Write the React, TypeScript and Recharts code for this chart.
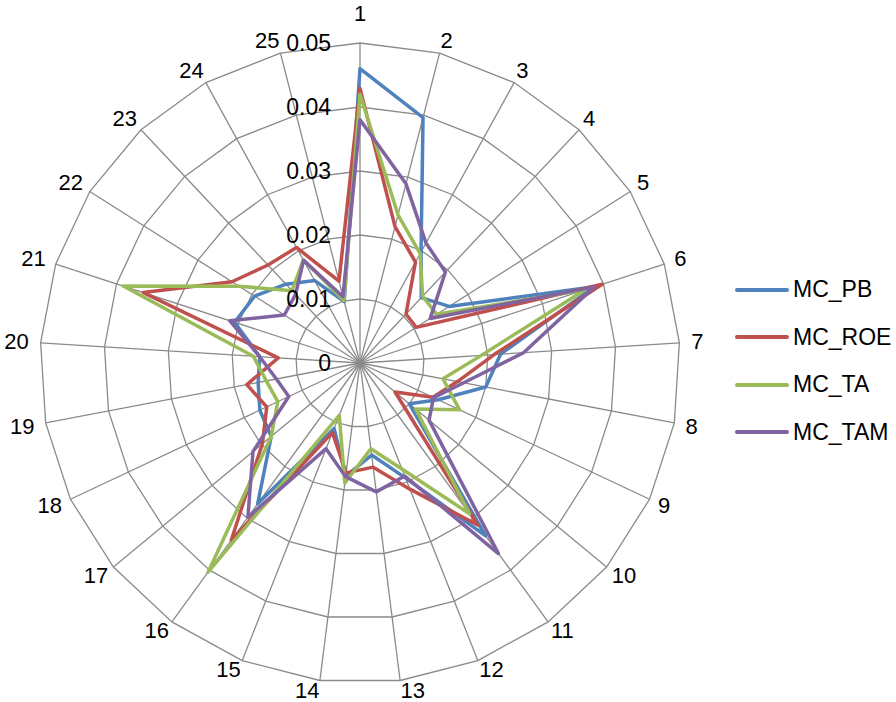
import React from "react";
import {
  RadarChart,
  Radar,
  PolarGrid,
  PolarAngleAxis,
  PolarRadiusAxis,
  Legend,
} from "recharts";

// categories 1..25 around the radar
const categories = [
  "1", "2", "3", "4", "5", "6", "7", "8", "9", "10", "11", "12", "13",
  "14", "15", "16", "17", "18", "19", "20", "21", "22", "23", "24", "25",
];

const mcPB = [
  0.046, 0.0396, 0.0198, 0.014, 0.0165, 0.0385, 0.022, 0.02, 0.0135, 0.01,
  0.0334, 0.0193, 0.0145, 0.0178, 0.011, 0.0272, 0.018, 0.0173, 0.0162,
  0.0157, 0.0206, 0.0195, 0.0169, 0.0147, 0.0099,
];
const mcROE = [
  0.0429, 0.022, 0.018, 0.0105, 0.0104, 0.0398, 0.021, 0.0155, 0.0126,
  0.0071, 0.0313, 0.0212, 0.0164, 0.0173, 0.0117, 0.0342, 0.0198, 0.0161,
  0.018, 0.0128, 0.0356, 0.0237, 0.021, 0.0206, 0.0132,
];
const mcTA = [
  0.042, 0.0239, 0.0195, 0.0143, 0.0142, 0.037, 0.019, 0.0132, 0.0172,
  0.0113, 0.0291, 0.0178, 0.0135, 0.0189, 0.0088, 0.0404, 0.018, 0.0142,
  0.0149, 0.0167, 0.0389, 0.0224, 0.0155, 0.0184, 0.0101,
];
const mcTAM = [
  0.038, 0.0289, 0.0214, 0.0195, 0.013, 0.0385, 0.0256, 0.0165, 0.0127,
  0.014, 0.0368, 0.019, 0.0203, 0.0179, 0.0144, 0.0298, 0.0217, 0.0123,
  0.0133, 0.0157, 0.0214, 0.014, 0.0147, 0.0183, 0.0107,
];

const radiusTicks = [0, 0.01, 0.02, 0.03, 0.04, 0.05];

const series = [
  { key: "MC_PB", color: "#4F81BD" },
  { key: "MC_ROE", color: "#C0504D" },
  { key: "MC_TA", color: "#9BBB59" },
  { key: "MC_TAM", color: "#8064A2" },
];

const data = categories.map((cat, i) => ({
  cat,
  MC_PB: mcPB[i],
  MC_ROE: mcROE[i],
  MC_TA: mcTA[i],
  MC_TAM: mcTAM[i],
}));

const FONT = "'Liberation Sans', Arial, sans-serif";
const CX = 360;
const CY = 363;
const R = 320;

// category labels sit just outside the outer ring, anchored like excel does
const AngleTick = (props: any) => {
  const { x, y, payload } = props;
  const vx = x - CX;
  const vy = y - CY;
  const len = Math.hypot(vx, vy) || 1;
  const dx = vx / len;
  const dy = vy / len;
  const gap = 4 + 8 * Math.pow(Math.abs(dx), 4);
  const ax = CX + dx * (R + gap);
  let ay = CY + dy * (R + gap) + dy * (dy > 0 ? 6 : 9);
  if (dy < -0.999) ay -= 17; // top label sits higher
  const anchor = dx > 0.05 ? "start" : dx < -0.05 ? "end" : "middle";
  return (
    <text
      x={ax}
      y={ay}
      textAnchor={anchor}
      dominantBaseline="central"
      fontFamily={FONT}
      fontSize={22}
      fill="#000"
    >
      {payload.value}
    </text>
  );
};

const RadiusTick = (props: any) => {
  const { x, y, payload } = props;
  const v = Number(payload.value);
  return (
    <text
      x={x - 29}
      y={y}
      textAnchor="end"
      dominantBaseline="central"
      fontFamily={FONT}
      fontSize={23}
      fill="#000"
    >
      {v === 0 ? "0" : v.toFixed(2)}
    </text>
  );
};

const renderLegend = () => (
  <div style={{ fontFamily: FONT, fontSize: 23, color: "#000" }}>
    {series.map((s) => (
      <div
        key={s.key}
        style={{ display: "flex", alignItems: "center", height: 47.5 }}
      >
        <div
          style={{
            width: 54,
            height: 4,
            borderRadius: 2,
            background: s.color,
          }}
        />
        <span style={{ marginLeft: 4, lineHeight: 1 }}>{s.key}</span>
      </div>
    ))}
  </div>
);

export default function App() {
  return (
    <div
      style={{
        position: "absolute",
        left: 0,
        top: 0,
        width: 896,
        height: 702,
        background: "#fff",
      }}
    >
      <RadarChart
        width={896}
        height={702}
        data={data}
        cx={CX}
        cy={CY}
        outerRadius={R}
        margin={{ top: 0, right: 0, bottom: 0, left: 0 }}
      >
        <PolarGrid stroke="#8a8a8a" strokeWidth={1.3} gridType="polygon" />
        <PolarAngleAxis
          dataKey="cat"
          tick={<AngleTick />}
          tickLine={false}
          axisLine={false}
        />
        <PolarRadiusAxis
          angle={90}
          type="number"
          domain={[0, 0.05]}
          ticks={radiusTicks}
          tickCount={6}
          axisLine={false}
          tickLine={false}
          tick={<RadiusTick />}
        />
        {series.map((s) => (
          <Radar
            key={s.key}
            name={s.key}
            dataKey={s.key}
            stroke={s.color}
            strokeWidth={3.5}
            strokeLinejoin="round"
            fill="none"
            fillOpacity={0}
            dot={false}
            isAnimationActive={false}
          />
        ))}
        <Legend
          content={renderLegend}
          wrapperStyle={{ position: "absolute", left: 735, top: 266, width: 160 }}
        />
      </RadarChart>
    </div>
  );
}
